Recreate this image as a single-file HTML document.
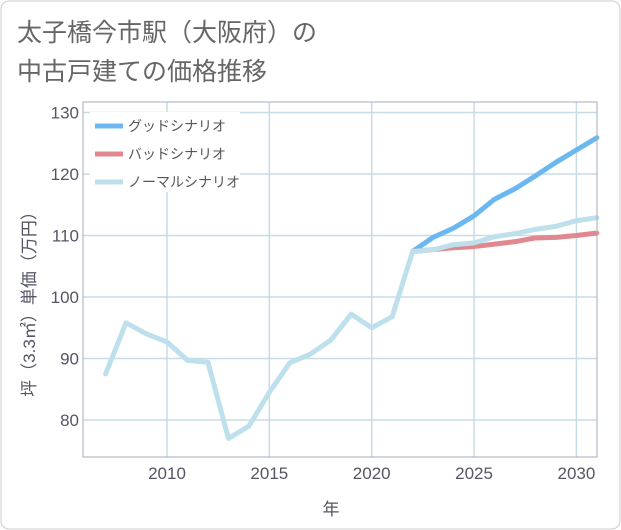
<!DOCTYPE html>
<html><head><meta charset="utf-8"><style>
body{margin:0;background:#fff;}
svg{display:block;font-family:"Liberation Sans","Noto Sans CJK JP",sans-serif;}
</style></head><body>
<svg id="c" width="621" height="530">
<rect x="1" y="1" width="619" height="528" rx="8" fill="#fff" stroke="#ccc"/>
<text x="17" y="41" font-size="25" fill="#666">太子橋今市駅（大阪府）の</text>
<text x="17" y="80" font-size="25" fill="#666">中古戸建ての価格推移</text>
<g id="grid"></g>
<g id="series"></g>
<rect x="83" y="102" width="514" height="355" fill="none" stroke="#aab" stroke-width="1"/>
<text x="331" y="515" font-size="17" fill="#556" text-anchor="middle">年</text>
<text transform="translate(35,300) rotate(-90)" font-size="17" fill="#556" text-anchor="middle">坪（3.3㎡）単価（万円）</text>
<g>
<rect x="90" y="112" width="150" height="80" fill="#fff"/>
<line x1="95" y1="126" x2="123" y2="126" stroke="#6bb8f0" stroke-width="5"/>
<text x="128" y="131" font-size="14" fill="#555">グッドシナリオ</text>
<line x1="95" y1="154" x2="123" y2="154" stroke="#e08890" stroke-width="5"/>
<text x="128" y="159" font-size="14" fill="#555">バッドシナリオ</text>
<line x1="95" y1="182" x2="123" y2="182" stroke="#bde0ec" stroke-width="5"/>
<text x="128" y="187" font-size="14" fill="#555">ノーマルシナリオ</text>
</g>
</svg>
<script>
const normalYears=[2007,2008,2009,2010,2011,2012,2013,2014,2015,2016,2017,2018,2019,2020,2021,2022,2023,2024,2025,2026,2027,2028,2029,2030,2031];
const normalValues=[87.5,95.8,94,92.7,89.7,89.4,77,79,84.5,89.3,90.7,93,97.2,95,96.8,107.4,107.7,108.5,108.8,109.8,110.3,111,111.5,112.4,112.9];
const futureYears=[2022,2023,2024,2025,2026,2027,2028,2029,2030,2031];
const goodValues=[107.4,109.7,111.2,113.2,115.9,117.6,119.7,121.9,123.9,125.9];
const badValues=[107.4,107.7,108.0,108.2,108.6,109.0,109.6,109.7,110.0,110.4];
const xTicks=[2010,2015,2020,2025,2030];
const yTicks=[80,90,100,110,120,130];
const NS='http://www.w3.org/2000/svg';
const X=y=>167+(y-2010)*20.47;
const Y=v=>297-(v-100)*6.15;
const grid=document.getElementById('grid'),ser=document.getElementById('series');
function mk(tag,attrs,parent){const e=document.createElementNS(NS,tag);for(const k in attrs)e.setAttribute(k,attrs[k]);parent.appendChild(e);return e;}
xTicks.forEach(t=>{const l=mk('line',{x1:X(t),x2:X(t),y1:102,y2:457,stroke:'#c8dbe6','stroke-width':1.5},grid);

});
yTicks.forEach(t=>{const l=mk('line',{x1:83,x2:597,y1:Y(t),y2:Y(t),stroke:'#c8dbe6','stroke-width':1.5},grid);

});
xTicks.forEach(t=>{const e=mk('text',{x:X(t),y:479,'font-size':17,fill:'#556','text-anchor':'middle'},grid);e.textContent=t;

});
yTicks.forEach(t=>{const e=mk('text',{x:79,y:Y(t)+6,'font-size':17,fill:'#556','text-anchor':'end'},grid);e.textContent=t;

});
function line(xs,vs,color,name){const p=mk('polyline',{points:xs.map((x,i)=>X(x)+','+Y(vs[i])).join(' '),fill:'none',stroke:color,'stroke-width':5,'stroke-linejoin':'round','stroke-linecap':'round'},ser);

}
line(futureYears,goodValues,'#6bb8f0','good-scenario-line');
line(futureYears,badValues,'#e08890','bad-scenario-line');
line(normalYears,normalValues,'#bde0ec','normal-scenario-line');
</script>
</body></html>
